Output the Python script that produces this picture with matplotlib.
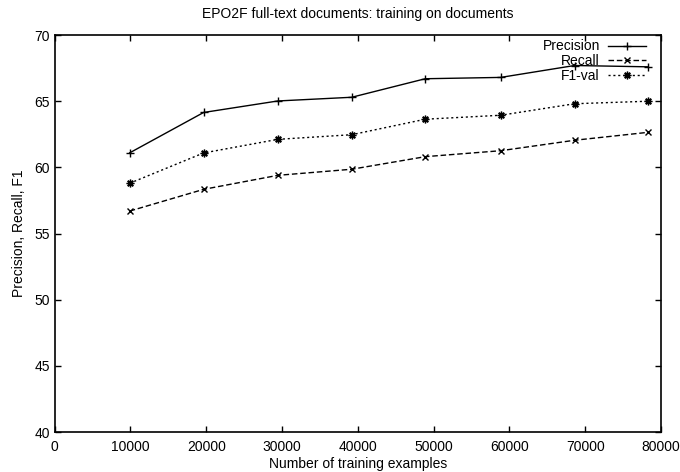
import matplotlib
matplotlib.use("Agg")
import matplotlib.pyplot as plt

plt.rcParams['font.family'] = ['Liberation Sans', 'DejaVu Sans']

# Datos
examples = [9900, 19650, 29450, 39200, 48900, 58850, 68600, 78300]
precision = [61.1, 64.15, 65.02, 65.3, 66.7, 66.8, 67.7, 67.6]
recall = [56.7, 58.34, 59.4, 59.86, 60.81, 61.26, 62.05, 62.65]
f1 = [58.8, 61.09, 62.12, 62.47, 63.64, 63.94, 64.81, 65.0]

fig = plt.figure(figsize=(6.8, 4.72), dpi=100)
ax = fig.add_axes([0.0804, 0.0847, 0.8916, 0.841])

ax.plot(examples, precision, color="black", lw=1, marker="+", ms=5.5, mew=1, label="Precision")
ax.plot(examples, recall, color="black", lw=1, ls=(0, (4, 2)), marker="x", ms=5, mew=1, label="Recall")
ax.plot(examples, f1, color="black", lw=1, ls=(0, (1.5, 2)), marker=(8, 2, 0), ms=5.5, mew=1, label="F1-val")

ax.set_xlim(0, 80000)
ax.set_ylim(40, 70)
ax.set_xticks(range(0, 80001, 10000))
ax.set_yticks(range(40, 71, 5))
ax.tick_params(direction="in", top=True, right=True, length=4.5, labelsize=10, width=1)
ax.tick_params(axis="x", pad=6)
for s in ax.spines.values():
    s.set_linewidth(1.2)

ax.set_title("EPO2F full-text documents: training on documents", fontsize=10, pad=12)
ax.set_xlabel("Number of training examples", fontsize=10, labelpad=2)
ax.set_ylabel("Precision, Recall, F1", fontsize=10, labelpad=6)

ax.legend(loc="upper right", frameon=False, markerfirst=False, fontsize=10,
          handlelength=2.75, labelspacing=0.05, borderpad=0, borderaxespad=0,
          handletextpad=0.58, bbox_to_anchor=(646 / 680, 1 - 39.5 / 472),
          bbox_transform=fig.transFigure)

fig.savefig("out.png", dpi=100)
